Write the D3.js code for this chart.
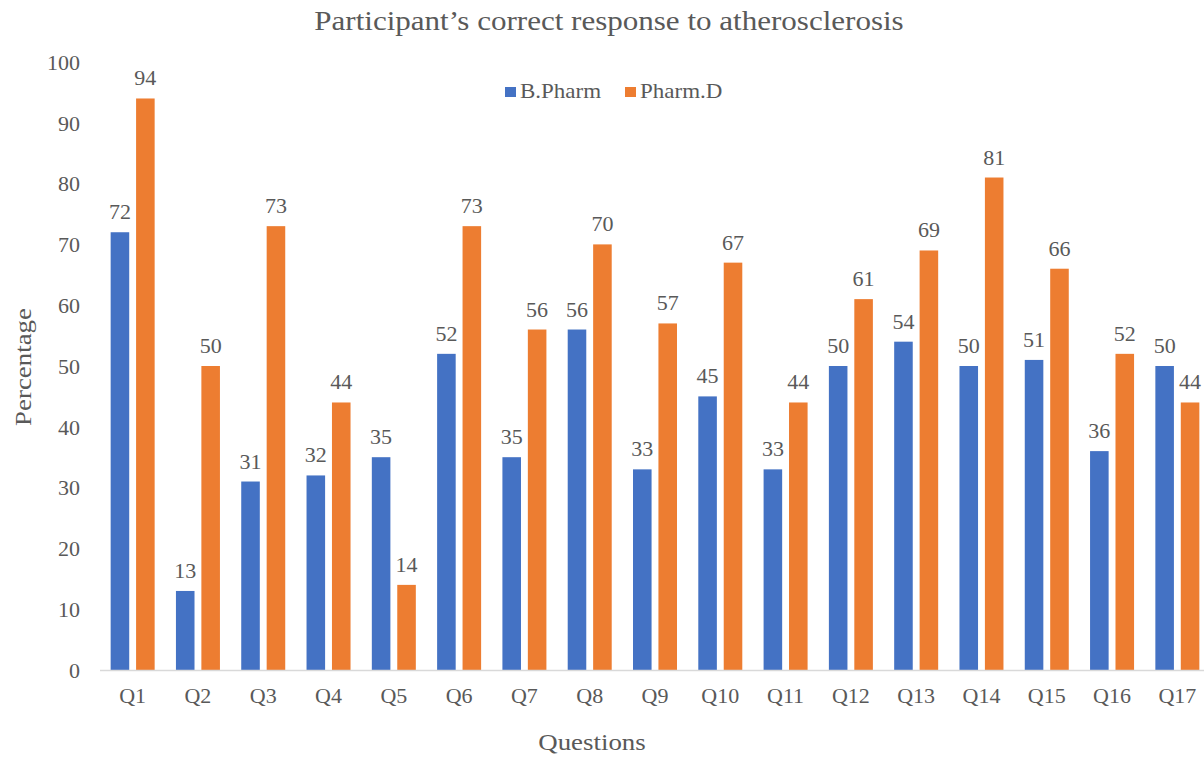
<!DOCTYPE html>
<html>
<head>
<meta charset="utf-8">
<script src="https://cdn.jsdelivr.net/npm/d3@7"></script>
<style>
  body { margin: 0; background: #fff; }
  text { font-family: "Liberation Serif", "Times New Roman", serif; fill: #595959; }
</style>
</head>
<body>
<div id="chart"></div>
<script>
const width = 1204, height = 757;

// data
const questions = ["Q1","Q2","Q3","Q4","Q5","Q6","Q7","Q8","Q9","Q10","Q11","Q12","Q13","Q14","Q15","Q16","Q17"];
const seriesNames = ["B.Pharm", "Pharm.D"];
const bPharm = [72, 13, 31, 32, 35, 52, 35, 56, 33, 45, 33, 50, 54, 50, 51, 36, 50];
const pharmD = [94, 50, 73, 44, 14, 73, 56, 70, 57, 67, 44, 61, 69, 81, 66, 52, 44];
const yTicks = [0, 10, 20, 30, 40, 50, 60, 70, 80, 90, 100];
const colors = ["#4472c4", "#ed7d31"];

const rows = questions.map((q, i) => ({ q: q, values: [bPharm[i], pharmD[i]] }));

const svg = d3.select("#chart")
	.append("svg")
	.attr("width", width)
	.attr("height", height);

// the plot runs a little past the right edge, like the reference
const x0 = d3.scaleBand()
	.domain(questions)
	.range([100, 1210]);

const x1 = d3.scaleBand()
	.domain([0, 1])
	.range([0, 44])
	.paddingInner(0.27);

const y = d3.scaleLinear()
	.domain([0, 100])
	.range([670, 62]);

// title (the source font is a bit wider than Times, so stretch it)
svg.append("text")
	.attr("transform", "translate(609,30) scale(1.15,1)")
	.attr("text-anchor", "middle")
	.style("font-size", "27px")
	.text("Participant\u2019s correct response to atherosclerosis");

// legend
const legend = svg.append("g");
const legendX = [505, 625];
seriesNames.forEach((name, i) => {
	legend.append("rect")
		.attr("x", legendX[i])
		.attr("y", 87)
		.attr("width", 11)
		.attr("height", 10)
		.attr("fill", colors[i]);
	legend.append("text")
		.attr("transform", "translate(" + (legendX[i] + 15) + ",98) scale(1.15,1)")
		.style("font-size", "20px")
		.text(name);
});

// y axis labels (no line, no gridlines)
svg.append("g")
	.selectAll("text")
	.data(yTicks)
	.enter()
	.append("text")
	.attr("x", 80)
	.attr("y", d => y(d))
	.attr("dy", "0.35em")
	.attr("text-anchor", "end")
	.style("font-size", "22px")
	.text(d => d);

// bars
const groups = svg.append("g")
	.selectAll("g")
	.data(rows)
	.enter()
	.append("g")
	.attr("transform", d => "translate(" + (x0(d.q) + x0.bandwidth() / 2 - 22) + ",0)");

groups.selectAll("rect")
	.data(d => d.values)
	.enter()
	.append("rect")
	.attr("x", (d, i) => x1(i))
	.attr("y", d => y(d))
	.attr("width", x1.bandwidth())
	.attr("height", d => y(0) - y(d))
	.attr("fill", (d, i) => colors[i]);

groups.selectAll("text")
	.data(d => d.values)
	.enter()
	.append("text")
	.attr("x", (d, i) => x1(i) + x1.bandwidth() / 2)
	.attr("y", d => y(d) - 13)
	.attr("text-anchor", "middle")
	.style("font-size", "22px")
	.text(d => d);

// baseline
svg.append("line")
	.attr("x1", 100)
	.attr("x2", 1210)
	.attr("y1", y(0) + 0.5)
	.attr("y2", y(0) + 0.5)
	.attr("stroke", "#d9d9d9")
	.attr("stroke-width", 1.5);

// x axis labels
svg.append("g")
	.selectAll("text")
	.data(questions)
	.enter()
	.append("text")
	.attr("x", d => x0(d) + x0.bandwidth() / 2)
	.attr("y", 703)
	.attr("text-anchor", "middle")
	.style("font-size", "22px")
	.text(d => d);

// axis titles
svg.append("text")
	.attr("transform", "translate(592,750) scale(1.12,1)")
	.attr("text-anchor", "middle")
	.style("font-size", "24px")
	.text("Questions");

svg.append("text")
	.attr("transform", "translate(31,367) rotate(-90) scale(1.12,1)")
	.attr("text-anchor", "middle")
	.style("font-size", "24px")
	.text("Percentage");
</script>
</body>
</html>
